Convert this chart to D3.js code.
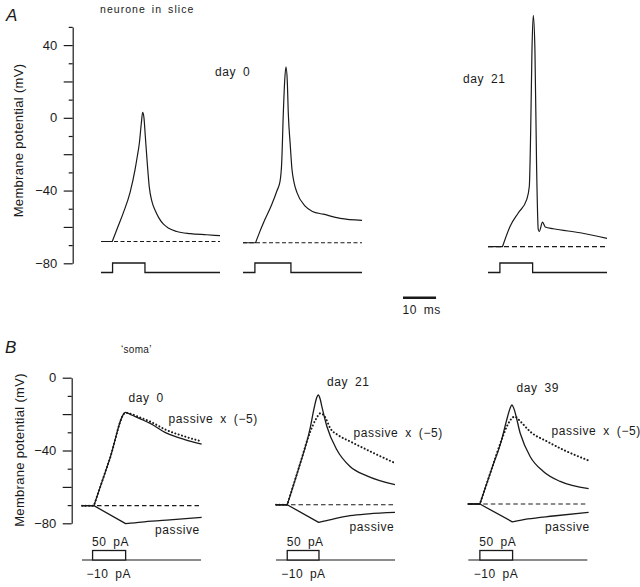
<!DOCTYPE html>
<html><head><meta charset="utf-8">
<script src="https://cdn.jsdelivr.net/npm/d3@7"></script>
<style>
body{margin:0;background:#fff}
svg{display:block;background:#fff}
text{font-family:"Liberation Sans",Arial,Helvetica,sans-serif;fill:#1a1a1a}
</style>
</head><body>
<svg id="c" width="640" height="587"></svg>
<script>
// ---------- DATA (time ms, membrane potential mV) ----------
// Panel A: neurone in slice
const traceA_day0a = [[0,-68],[3.4,-68],[5,-60.5],[6.8,-52],[8.8,-41],[10.3,-28.5],[11,-21],[11.6,-14],[12.2,-3],[12.6,3],[13.0,0],[13.4,-10],[14.0,-25],[14.6,-38],[15.4,-46],[16.4,-51],[17.5,-55],[18.9,-58.5],[20.5,-60.7],[22.9,-62.5],[27,-63.7],[32,-64.3],[36,-64.8]];
const traceA_day0b = [[0,-68.7],[3.8,-68.7],[5,-63],[6.2,-57.7],[8.7,-47.7],[10.3,-40],[11.2,-35],[11.7,-25],[12.2,2.7],[12.6,20],[13.0,28],[13.4,20],[13.7,2.6],[14.3,-15],[14.8,-28],[15.5,-36],[16.3,-41],[18.8,-48.6],[21,-51.5],[24.3,-53],[29.4,-55.3],[36,-56.4]];
const traceA_day21 = [[0,-70.8],[4.4,-70.8],[6.7,-59.6],[9.2,-52.2],[11.7,-45],[12.5,-37.6],[12.9,-8.4],[13.3,37],[13.7,56.4],[14.2,37],[14.7,-26.7],[15.2,-61.4],[15.5,-62.5],[16.5,-57.4],[17.3,-60],[19.8,-61],[27.9,-63.2],[36,-66.3]];
const baselineA = [-68, -68.7, -70.8];
const stimA = [[3.5, 13.3], [3.6, 14.5], [3.6, 13.5]];
const labelsA = ["day 0", "day 21"];

// Panel B: 'soma'
const traceB_day0  = [[0,-70.3],[3.6,-70.3],[8.4,-44.6],[13.2,-19],[15,-20.5],[17.5,-22.5],[20.5,-25],[25.6,-30.5],[31.1,-34],[36.2,-36.5]];
const passiveX5_day0 = [[0,-70.3],[3.6,-70.3],[8.4,-44.6],[13.2,-19.3],[15,-20],[17.5,-21.8],[20.5,-24],[25.6,-28.8],[31.1,-32.3],[36.2,-35]];
const passive_day0 = [[0,-70.3],[3.6,-70.3],[13.2,-80.2],[18,-79.3],[25.6,-78.3],[36.2,-76.7]];

const traceB_day21 = [[0,-69.8],[3.4,-69.8],[7,-49],[10.3,-28],[11.5,-17],[12.3,-11],[12.8,-9.5],[13.4,-12],[13.9,-16],[15.4,-26.8],[18.4,-39.6],[22.4,-48.8],[27.5,-53.9],[36,-58.8]];
const passiveX5_day21 = [[0,-69.8],[3.4,-69.8],[7,-49],[10.3,-30],[12,-23],[13.5,-19.5],[14.8,-21.5],[16.4,-27.7],[19,-31.8],[22.4,-35],[28.5,-40.5],[36,-46.9]];
const passive_day21 = [[0,-69.8],[3.4,-69.8],[12.9,-79.5],[17,-77.8],[22.4,-75.8],[28,-74.8],[36,-74]];

const traceB_day39 = [[0,-69.4],[3.5,-69.4],[7,-50.5],[10.1,-34],[11.5,-24],[12.6,-17],[13.2,-15],[13.8,-17],[15.7,-30.5],[18.7,-43.3],[22.7,-51.5],[27.8,-57],[36.4,-61]];
const passiveX5_day39 = [[0,-69.4],[3.5,-69.4],[7,-50.5],[10.1,-34],[12,-25.5],[14,-21.4],[16,-24.5],[18.7,-29.6],[23.8,-35],[29.8,-40.5],[36.4,-45.5]];
const passive_day39 = [[0,-69.4],[3.5,-69.4],[13.3,-79.2],[18,-77.6],[25.7,-76],[36.4,-74]];

const baselineB = [-70.3, -69.8, -69.4];
const stimB = [[3.2, 13.2], [3.4, 13.0], [3.5, 13.4]];
const labelsB = ["day 0", "day 21", "day 39"];

const yTicksA = [-80, -70, -60, -50, -40, -30, -20, -10, 0, 10, 20, 30, 40, 50];
const yLabelsA = [-80, -40, 0, 40];
const yTicksB = [-80, -70, -60, -50, -40, -30, -20, -10, 0];
const yLabelsB = [-80, -40, 0];
const scaleBarMs = 10;

// ---------- DRAWING ----------
const ink = "#1a1a1a";
const svg = d3.select("#c");
const tMax = 36, wTrace = 119;
const xFor = o => d3.scaleLinear().domain([0, tMax]).range([o, o + wTrace]);
const originsA = [101, 243, 488];
const originsB = [82, 276, 468.3];
const xA = originsA.map(xFor);
const xB = originsB.map(xFor);

const yA = d3.scaleLinear().domain([-80, 50]).range([263.3, 26.9]);
const yB = d3.scaleLinear().domain([-80, 0]).range([523.3, 377.7]);

function drawAxis(g, y, ticks, labels, x0) {
  const ax = d3.axisLeft(y).tickValues(ticks).tickSizeInner(4).tickSizeOuter(0)
    .tickPadding(11.5).tickFormat(d => labels.includes(d) ? d3.format("d")(d) : "");
  const a = g.append("g").attr("transform", `translate(${x0},0)`).call(ax);
  a.select(".domain").attr("stroke", ink).attr("stroke-width", 1.2);
  a.selectAll(".tick line").attr("stroke", ink).attr("stroke-width", 1.2)
    .attr("x2", d => d % 20 === 0 ? -9 : -4);
  a.selectAll(".tick text").attr("fill", ink).style("font-size", "13px")
    .style("font-family", '"Liberation Sans",Arial,sans-serif');
}

// path through points: sharp corners at given indices, smooth (monotone) elsewhere
function cornerPath(x, y, pts, corners) {
  const cuts = [0, ...corners.filter(c => c > 0 && c < pts.length - 1).sort((a, b) => a - b), pts.length - 1];
  let d = "";
  for (let k = 0; k < cuts.length - 1; k++) {
    const seg = pts.slice(cuts[k], cuts[k + 1] + 1);
    const curve = seg.length > 2 ? d3.curveMonotoneX : d3.curveLinear;
    let s = d3.line().x(p => x(p[0])).y(p => y(p[1])).curve(curve)(seg);
    if (k > 0) s = s.replace(/^M[^A-Za-z]*/, "");
    d += s;
  }
  return d;
}
const argmaxIdx = pts => d3.maxIndex(pts, p => p[1]);
const troughAfterPeak = pts => { const m = argmaxIdx(pts); return m + d3.minIndex(pts.slice(m), p => p[1]); };

function addText(txt, x, y, size, opts = {}) {
  const t = svg.append("text").attr("x", x).attr("y", y).style("font-size", size + "px")
    .style("letter-spacing", (opts.ls != null ? opts.ls : 0.6) + "px")
    .style("word-spacing", (opts.ws != null ? opts.ws : 2) + "px")
    .text(txt);
  if (opts.italic) t.style("font-style", "italic");
  if (opts.anchor) t.attr("text-anchor", opts.anchor);
  if (opts.rotate) t.attr("transform", `rotate(-90,${x},${y})`);
  return t;
}

// ----- Panel A -----
const gA = svg.append("g");
drawAxis(gA, yA, yTicksA, yLabelsA, 72.7);

const tracesA = [traceA_day0a, traceA_day0b, traceA_day21];
const stimScaleA = d3.scaleLinear().domain([0, 1]).range([272.5, 263]);
tracesA.forEach((tr, i) => {
  const x = xA[i];
  gA.append("line").attr("x1", x(0)).attr("x2", x(tMax)).attr("y1", yA(baselineA[i])).attr("y2", yA(baselineA[i]))
    .attr("stroke", ink).attr("stroke-width", 1.2)
    .attr("stroke-dasharray", i === 2 ? "5,3" : "4,2.5");
  gA.append("path").attr("d", cornerPath(x, yA, tr, [1, troughAfterPeak(tr)]))
    .attr("fill", "none").attr("stroke", ink).attr("stroke-width", 1.2).attr("stroke-linejoin", "round");
  const [on, off] = stimA[i];
  const stimPts = [[0, 0], [on, 0], [on, 1], [off, 1], [off, 0], [tMax, 0]];
  gA.append("path").attr("d", d3.line().x(d => x(d[0])).y(d => stimScaleA(d[1]))(stimPts))
    .attr("fill", "none").attr("stroke", ink).attr("stroke-width", 1.3);
});

// scale bar
const sbX = xFor(403);
svg.append("line").attr("x1", sbX(0)).attr("x2", sbX(scaleBarMs)).attr("y1", 297.7).attr("y2", 297.7)
  .attr("stroke", ink).attr("stroke-width", 2.6);
addText("10 ms", 402.5, 313.5, 12, {ls: 0.5, ws: 3});

addText("A", 6, 21, 17, {italic: true, ls: 0});
addText("neurone in slice", 100, 12.5, 10.5, {ls: 1.05, ws: 2});
addText(labelsA[0], 215, 75.7, 12, {ls: 0.6, ws: 3});
addText(labelsA[1], 463, 82.5, 12, {ls: 0.6, ws: 3});
addText("Membrane potential (mV)", 23, 140.5, 13, {ls: 0.3, ws: 0, anchor: "middle", rotate: true});

// ----- Panel B -----
const gB = svg.append("g");
drawAxis(gB, yB, yTicksB, yLabelsB, 71.7);

const tracesB = [traceB_day0, traceB_day21, traceB_day39];
const dottedB = [passiveX5_day0, passiveX5_day21, passiveX5_day39];
const passiveB = [passive_day0, passive_day21, passive_day39];
const stimLineY = 560, stimTopY = 550.5;
tracesB.forEach((tr, i) => {
  const x = xB[i];
  gB.append("line").attr("x1", x(0)).attr("x2", x(tMax)).attr("y1", yB(baselineB[i])).attr("y2", yB(baselineB[i]))
    .attr("stroke", ink).attr("stroke-width", 1.2).attr("stroke-dasharray", "4.5,3");
  gB.append("path").attr("d", cornerPath(x, yB, dottedB[i], [1]))
    .attr("fill", "none").attr("stroke", ink).attr("stroke-width", 2).attr("stroke-linecap", "round")
    .attr("stroke-dasharray", "0.1,3.4");
  gB.append("path").attr("d", cornerPath(x, yB, tr, [1]))
    .attr("fill", "none").attr("stroke", ink).attr("stroke-width", 1.3).attr("stroke-linejoin", "round");
  const pv = passiveB[i];
  gB.append("path").attr("d", cornerPath(x, yB, pv, [1, d3.minIndex(pv, p => p[1])]))
    .attr("fill", "none").attr("stroke", ink).attr("stroke-width", 1.3).attr("stroke-linejoin", "round");
  // stimulus
  gB.append("line").attr("x1", x(0)).attr("x2", x(tMax)).attr("y1", stimLineY).attr("y2", stimLineY)
    .attr("stroke", ink).attr("stroke-width", 1.1);
  const [on, off] = stimB[i];
  gB.append("rect").attr("x", x(on)).attr("y", stimTopY).attr("width", x(off) - x(on))
    .attr("height", stimLineY - stimTopY).attr("fill", "#fff").attr("stroke", ink).attr("stroke-width", 1.3);
  addText("50 pA", x(on) - 0.5, 546, 12, {ls: 0.5, ws: 3});
  addText("\u221210 pA", x(on) - 6, 578, 12, {ls: 0.5, ws: 3});
});

addText("B", 5, 353, 17, {italic: true, ls: 0});
addText("\u2018soma\u2019", 121, 353, 10, {ls: 0.3});
addText("Membrane potential (mV)", 23.5, 450, 13, {ls: 0.3, ws: 0, anchor: "middle", rotate: true});

addText(labelsB[0], 128.5, 401.7, 12, {ls: 0.6, ws: 3});
addText(labelsB[1], 327, 386, 12, {ls: 0.6, ws: 3});
addText(labelsB[2], 516.5, 391.5, 12, {ls: 0.6, ws: 3});

addText("passive x (\u22125)", 168.5, 423.3, 12, {ls: 0.6, ws: 3});
addText("passive x (\u22125)", 353.5, 436.5, 12, {ls: 0.6, ws: 3});
addText("passive x (\u22125)", 551.5, 435, 12, {ls: 0.6, ws: 3});
addText("passive", 155, 534, 12, {ls: 0.6});
addText("passive", 349.5, 530.5, 12, {ls: 0.6});
addText("passive", 545, 531, 12, {ls: 0.6});
</script>
</body></html>
